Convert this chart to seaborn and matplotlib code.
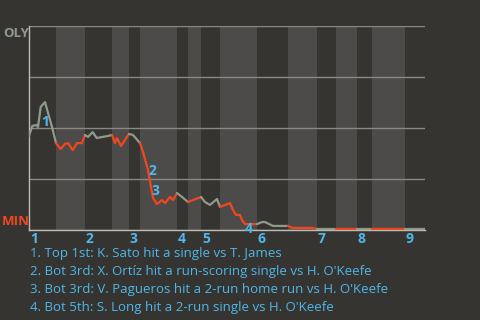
import matplotlib
matplotlib.use("Agg")
import matplotlib.pyplot as plt
import seaborn as sns
import pandas as pd
import numpy as np

# ---- data ----
# game progress (x) and OLY win probability (y)
progress = [0, 3.3, 7.7, 9, 11.7, 16, 19, 23, 27, 31.7, 36, 39, 43.7, 48, 53,
            56, 59, 63.7, 67.7, 79, 83, 86, 88, 92, 100, 104, 111, 114, 119,
            122, 124, 128, 133, 136, 141, 144, 148, 153, 159, 172, 176, 181,
            188, 191, 201, 204, 207, 211, 213, 216, 228, 233, 236, 244, 259,
            261, 264, 283, 288, 307, 328, 343, 376, 396]
win_prob = [0.461, 0.510, 0.515, 0.505, 0.603, 0.627, 0.574, 0.505, 0.426,
            0.397, 0.422, 0.426, 0.392, 0.426, 0.426, 0.466, 0.456, 0.480,
            0.451, 0.461, 0.466, 0.426, 0.451, 0.412, 0.471, 0.466, 0.426,
            0.382, 0.294, 0.211, 0.157, 0.127, 0.147, 0.132, 0.162, 0.147,
            0.181, 0.162, 0.137, 0.162, 0.137, 0.123, 0.152, 0.113, 0.132,
            0.098, 0.074, 0.074, 0.049, 0.029, 0.029, 0.039, 0.039, 0.020,
            0.020, 0.015, 0.010, 0.010, 0.005, 0.005, 0.005, 0.005, 0.005,
            0.005]
inning_start = [0, 56, 100, 148, 172, 228, 288, 328, 376]
bottom_start = [27, 83, 111, 159, 191, 259, 307, 343]
game_end = 396
inning_labels = ["1", "2", "3", "4", "5", "6", "7", "8", "9"]

event_ids = ["1", "2", "3", "4"]
event_x = [16, 123, 126, 220]
event_y = [0.53, 0.29, 0.19, 0.005]
event_text = [
    "1. Top 1st: K. Sato hit a single vs T. James",
    "2. Bot 3rd: X. Ortíz hit a run-scoring single vs H. O'Keefe",
    "3. Bot 3rd: V. Pagueros hit a 2-run home run vs H. O'Keefe",
    "4. Bot 5th: S. Long hit a 2-run single vs H. O'Keefe",
]
team_top = "OLY"
team_bottom = "MIN"

# ---- style ----
BG = "#363430"
BAND = "#4d4b49"
GRID = "#8a8884"
GRAY = "#8f9a8b"
RED = "#f0471f"
BLUE = "#4fb7ea"
FONT = ["Open Sans", "DejaVu Sans"]

sns.set_theme(style="dark")
plt.rcParams["font.family"] = FONT

fig = plt.figure(figsize=(4.8, 3.2), dpi=100, facecolor=BG)
ax = fig.add_axes([29 / 480, 1 - 230 / 320, 396 / 480, 204 / 320])
ax.set_facecolor(BG)

# half-inning bands (bottom halves lighter)
halves = sorted(inning_start + bottom_start) + [game_end]
for b in bottom_start:
    nxt = halves[halves.index(b) + 1]
    ax.axvspan(b, nxt, color=BAND, lw=0, zorder=0)

# build segments per half-inning (sharing boundary points)
rows = []
for i in range(len(halves) - 1):
    a, b = halves[i], halves[i + 1]
    for x, y in zip(progress, win_prob):
        if a <= x <= b:
            rows.append({"x": x, "y": y, "seg": i})
df = pd.DataFrame(rows)
palette = {i: (GRAY if halves[i] in inning_start else RED) for i in range(len(halves) - 1)}
sns.lineplot(data=df, x="x", y="y", hue="seg", palette=palette, estimator=None,
             sort=False, legend=False, lw=1.6, ax=ax, zorder=3)

ax.set_xlim(0, game_end)
ax.set_ylim(0, 1)
ax.set_yticks([0, 0.25, 0.5, 0.75, 1.0])
ax.set_xticks([])
ax.set_yticklabels([])
ax.yaxis.grid(True, color=GRID, lw=1.0)
ax.xaxis.grid(False)
ax.tick_params(length=0)
ax.set_xlabel("")
ax.set_ylabel("")
for s in ["top", "right"]:
    ax.spines[s].set_visible(False)
for s in ["left", "bottom"]:
    ax.spines[s].set_visible(True)
    ax.spines[s].set_color("#bdbdb6")
    ax.spines[s].set_linewidth(1.0)

# event markers
for t, x, y in zip(event_ids, event_x, event_y):
    ax.text(x, y, t, color=BLUE, fontsize=10, fontweight="bold",
            ha="center", va="center", zorder=5)

# inning labels
for x, lab in zip(inning_start, inning_labels):
    ax.text(x + 1, -0.045, lab, color=BLUE, fontsize=10, fontweight="bold",
            ha="left", va="center", clip_on=False)

# team labels
fig.text(3 / 480, 1 - 33.5 / 320, team_top, color=GRAY, fontsize=9.5,
         fontweight="bold", ha="left", va="center")
fig.text(2 / 480, 1 - 221.5 / 320, team_bottom, color=RED, fontsize=9.5,
         fontweight="bold", ha="left", va="center")

# event descriptions
for i, txt in enumerate(event_text):
    fig.text(30 / 480, 1 - (254 + 17.7 * i) / 320, txt, color=BLUE,
             fontsize=9.5, ha="left", va="center")

fig.savefig("out.png", dpi=100, facecolor=BG)
